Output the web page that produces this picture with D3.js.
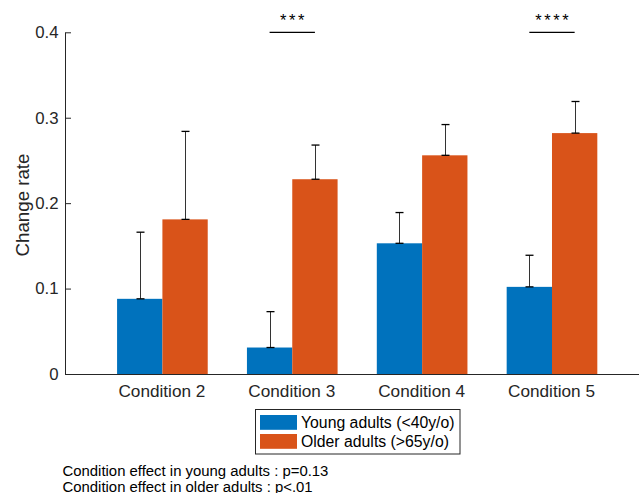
<!DOCTYPE html>
<html>
<head>
<meta charset="utf-8">
<script src="https://cdn.jsdelivr.net/npm/d3@7"></script>
<style>
  html, body { margin: 0; padding: 0; background: #fff; }
  svg { display: block; font-family: "Liberation Sans", Arial, Helvetica, sans-serif; }
</style>
</head>
<body>
<svg id="chart" width="639" height="493"></svg>
<script>
// Conditions and group means / standard errors
const categories = ["Condition 2", "Condition 3", "Condition 4", "Condition 5"];
const youngMean = [0.088, 0.031, 0.153, 0.102];
const youngErr  = [0.078, 0.042, 0.036, 0.037];
const olderMean = [0.181, 0.228, 0.256, 0.282];
const olderErr  = [0.103, 0.040, 0.036, 0.037];
const seriesNames = ["Young adults (<40y/o)", "Older adults (>65y/o)"];
const yTicks = [0, 0.1, 0.2, 0.3, 0.4];
// significance markers: category index, label, height
const sigIndex = [1, 3];
const sigLabels = ["***", "****"];
const sigLevel = 0.4;
const notes = [
  "Condition effect in young adults : p=0.13",
  "Condition effect in older adults : p<.01"
];

const colors = ["#0072BD", "#D95319"];
const axisColor = "#262626";

const svg = d3.select("#chart");

// x positions: categories sit at 1..4
const x = d3.scaleLinear().domain([0.25, 4.67]).range([65, 639]);
const y = d3.scaleLinear().domain([0, 0.4]).range([374, 32.3]);
const barW = 0.349; // width of one bar in category units

const series = [
  { name: seriesNames[0], mean: youngMean, err: youngErr, color: colors[0], offset: -1 },
  { name: seriesNames[1], mean: olderMean, err: olderErr, color: colors[1], offset: 0 }
];

// bars
series.forEach(s => {
  svg.append("g").selectAll("rect")
    .data(s.mean)
    .join("rect")
    .attr("x", (d, i) => x(i + 1 + s.offset * barW))
    .attr("width", x(barW) - x(0))
    .attr("y", d => y(d))
    .attr("height", d => y(0) - y(d))
    .attr("fill", s.color);
});

// error bars (upper only, capped at both ends)
const capHalf = 4;
series.forEach(s => {
  const g = svg.append("g").attr("stroke", "#000").attr("stroke-width", 1).attr("fill", "none");
  s.mean.forEach((m, i) => {
    const cx = Math.round(x(i + 1 + (s.offset + 0.5) * barW)) + 0.5;
    const y1 = y(m), y2 = y(m + s.err[i]);
    g.append("line").attr("x1", cx).attr("x2", cx).attr("y1", y1).attr("y2", y2).attr("stroke", "#333");
    g.append("line").attr("x1", cx - capHalf).attr("x2", cx + capHalf).attr("y1", y1).attr("y2", y1).attr("stroke-width", 1.3);
    g.append("line").attr("x1", cx - capHalf).attr("x2", cx + capHalf).attr("y1", y2).attr("y2", y2).attr("stroke-width", 1.3);
  });
});

// y axis with inward ticks
const yAxis = d3.axisLeft(y)
  .tickValues(yTicks)
  .tickFormat(d => d === 0 ? "0" : d3.format(".1f")(d))
  .tickSizeInner(-6)
  .tickSizeOuter(0)
  .tickPadding(6.5);
const gy = svg.append("g").attr("transform", "translate(65,0)").call(yAxis);
gy.select(".domain").attr("stroke", axisColor);
gy.selectAll(".tick line").attr("stroke", axisColor);
gy.selectAll(".tick text").attr("fill", axisColor).style("font-size", "16.8px")
  .style("font-family", "'Liberation Sans', Arial, sans-serif");

// x axis with category labels
const xAxis = d3.axisBottom(x)
  .tickValues(categories.map((c, i) => i + 1))
  .tickFormat((d, i) => categories[i])
  .tickSize(0)
  .tickPadding(11);
const gx = svg.append("g").attr("transform", "translate(0,374)").call(xAxis);
gx.select(".domain").attr("stroke", axisColor);
gx.selectAll(".tick text").attr("fill", axisColor).style("font-size", "17.2px")
  .attr("dx", -1)
  .style("font-family", "'Liberation Sans', Arial, sans-serif");

// y axis title
svg.append("text")
  .attr("transform", "translate(28.5,205) rotate(-90)")
  .attr("text-anchor", "middle")
  .attr("fill", axisColor)
  .style("font-size", "18.7px")
  .text("Change rate");

// significance brackets
sigIndex.forEach((ci, k) => {
  const xa = x(ci + 1 - 0.5 * barW), xb = x(ci + 1 + 0.5 * barW);
  svg.append("line")
    .attr("x1", xa).attr("x2", xb)
    .attr("y1", y(sigLevel)).attr("y2", y(sigLevel))
    .attr("stroke", "#000").attr("stroke-width", 1.2);
  svg.append("text")
    .attr("x", (xa + xb) / 2 + 1.3)
    .attr("y", y(sigLevel) - 6)
    .attr("text-anchor", "middle")
    .attr("fill", "#000")
    .style("font-size", "16.5px")
    .style("letter-spacing", "2.6px")
    .text(sigLabels[k]);
});

// legend
const lg = svg.append("g");
lg.append("rect")
  .attr("x", 255.5).attr("y", 409.5).attr("width", 204.5).attr("height", 44.5)
  .attr("fill", "#fff").attr("stroke", axisColor).attr("stroke-width", 1);
series.forEach((s, i) => {
  const cy = 422.5 + i * 19;
  lg.append("rect")
    .attr("x", 260).attr("y", cy - 7.5).attr("width", 37).attr("height", 14.8)
    .attr("fill", s.color);
  lg.append("text")
    .attr("x", 301)
    .attr("y", cy + 5.4)
    .attr("fill", "#000")
    .style("font-size", "15.8px")
    .text(s.name);
});

// footnotes
svg.append("g").selectAll("text")
  .data(notes)
  .join("text")
  .attr("x", 62.5)
  .attr("y", (d, i) => 476 + i * 15.6)
  .attr("fill", "#000")
  .style("font-size", "14.9px")
  .text(d => d);
</script>
</body>
</html>
